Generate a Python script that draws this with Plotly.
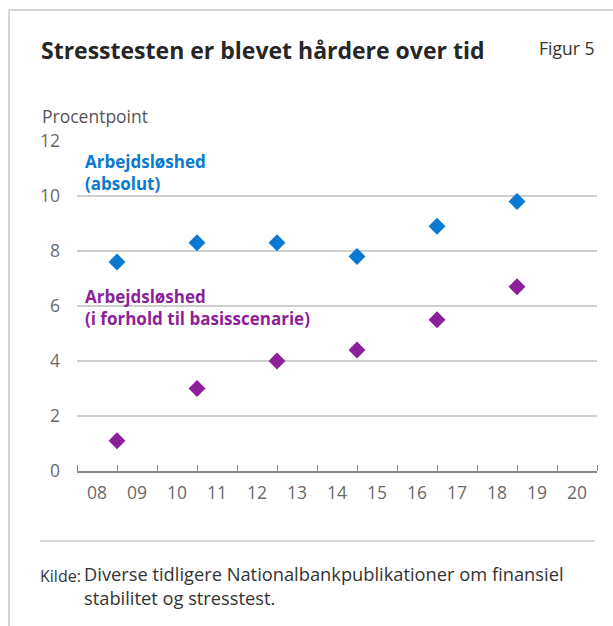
import plotly.graph_objects as go

# ---- data ----
periods = [8.5, 10.5, 12.5, 14.5, 16.5, 18.5]
absolut = [7.6, 8.3, 8.3, 7.8, 8.9, 9.8]
relativ = [1.1, 3.0, 4.0, 4.4, 5.5, 6.7]
year_ticks = list(range(8, 21))
year_labels = [f"{y:02d}" for y in year_ticks]
y_ticks = [0, 2, 4, 6, 8, 10, 12]

title = "Stresstesten er blevet hårdere over tid"
fig_label = "Figur 5"
unit_label = "Procentpoint"
label_abs = "Arbejdsløshed<br>(absolut)"
label_rel = "Arbejdsløshed<br>(i forhold til basisscenarie)"
source_head = "Kilde:"
source_text = "Diverse tidligere Nationalbankpublikationer om finansiel<br>stabilitet og stresstest."

BLUE = "#0a79d1"
PURPLE = "#8d1f9b"
FONT = "Open Sans"
REG = 17.5

W, H = 613, 626
L, R, T, B = 77, 597, 141, 471  # plot area in px


def px(x):
    return (x - L) / (R - L)


def py(y):
    return (B - y) / (B - T)


fig = go.Figure()
fig.add_trace(go.Scatter(x=periods, y=absolut, mode="markers",
                         marker=dict(symbol="diamond", size=13, color=BLUE),
                         hoverinfo="skip", showlegend=False))
fig.add_trace(go.Scatter(x=periods, y=relativ, mode="markers",
                         marker=dict(symbol="diamond", size=13, color=PURPLE),
                         hoverinfo="skip", showlegend=False))

fig.update_layout(
    width=W, height=H,
    margin=dict(l=L, r=W - R, t=T, b=H - B),
    paper_bgcolor="white", plot_bgcolor="white",
    font=dict(family=FONT, color="#666666", size=REG),
    showlegend=False,
)
fig.update_xaxes(
    range=[7.5, 20.5], tickmode="array", tickvals=year_ticks, ticktext=year_labels,
    ticks="", showgrid=False, zeroline=False,
    showline=True, linecolor="#8a8a8a", linewidth=1.5,
    minor=dict(ticks="inside", tick0=0.5, dtick=1, ticklen=6, tickwidth=1.2, tickcolor="#8a8a8a", showgrid=False),
    tickfont=dict(size=REG, color="#6a6a6a"), ticklabelstandoff=5,
)
fig.update_yaxes(
    range=[0, 12], tickmode="array", tickvals=y_ticks,
    showgrid=True, gridcolor="#cfcfcf", gridwidth=1.5, zeroline=False,
    showline=False, ticks="", tickfont=dict(size=REG, color="#6a6a6a"), ticklabelstandoff=16,
)

ann = []
ann.append(dict(x=px(39), y=py(50), xref="paper", yref="paper", text=f"<b>{title}</b>",
                showarrow=False, xanchor="left", yanchor="middle",
                font=dict(size=23, color="#262626", family=FONT)))
ann.append(dict(x=px(596), y=py(48), xref="paper", yref="paper", text=fig_label,
                showarrow=False, xanchor="right", yanchor="middle",
                font=dict(size=REG, color="#333333", family=FONT)))
ann.append(dict(x=px(40), y=py(116), xref="paper", yref="paper", text=unit_label,
                showarrow=False, xanchor="left", yanchor="middle",
                font=dict(size=REG, color="#555555", family=FONT)))
ann.append(dict(x=px(83), y=py(148), xref="paper", yref="paper", text=f"<b>{label_abs}</b>",
                showarrow=False, xanchor="left", yanchor="top", align="left",
                font=dict(size=17, color=BLUE, family=FONT)))
ann.append(dict(x=px(83), y=py(283), xref="paper", yref="paper", text=f"<b>{label_rel}</b>",
                showarrow=False, xanchor="left", yanchor="top", align="left",
                font=dict(size=17, color=PURPLE, family=FONT)))
ann.append(dict(x=px(38), y=py(563), xref="paper", yref="paper", text=source_head,
                showarrow=False, xanchor="left", yanchor="top", align="left",
                font=dict(size=16, color="#333333", family=FONT)))
ann.append(dict(x=px(82), y=py(559), xref="paper", yref="paper", text=source_text,
                showarrow=False, xanchor="left", yanchor="top", align="left",
                font=dict(size=18.3, color="#333333", family=FONT)))
fig.update_layout(annotations=ann)

shapes = [
    # frame
    dict(type="line", xref="paper", yref="paper", x0=px(9), x1=px(9), y0=py(10), y1=py(626),
         line=dict(color="#d3d3d3", width=2)),
    dict(type="line", xref="paper", yref="paper", x0=px(9), x1=px(613), y0=py(10), y1=py(10),
         line=dict(color="#d3d3d3", width=2)),
    # separator
    dict(type="line", xref="paper", yref="paper", x0=px(40), x1=px(595), y0=py(541), y1=py(541),
         line=dict(color="#b0b0b0", width=1)),
]
fig.update_layout(shapes=shapes)

fig.write_html("out.html")
